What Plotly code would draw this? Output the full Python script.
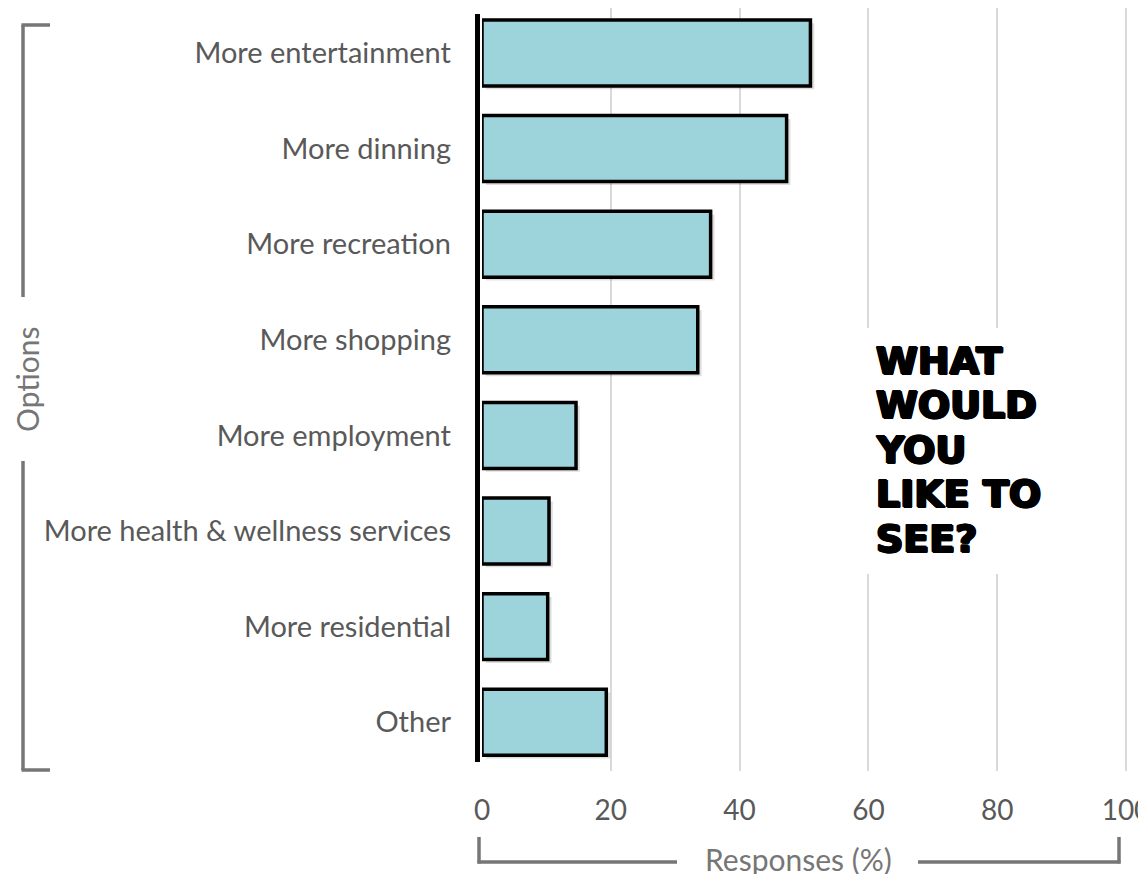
import plotly.graph_objects as go

categories = ["More entertainment", "More dinning", "More recreation", "More shopping",
              "More employment", "More health & wellness services", "More residential", "Other"]
values = [51, 47.3, 35.5, 33.5, 14.6, 10.4, 10.2, 19.3]
x_ticks = [0, 20, 40, 60, 80, 100]
title_lines = ["WHAT", "WOULD", "YOU", "LIKE TO", "SEE?"]

W, H = 1146, 874
OFF = 8  # page body margin
L, R, T, B = 474, 26, 0, 111
PW = W - L - R
PH = H - T - B

def px(xs):
    return (xs - OFF - L) / PW

def py(ys):
    return (H - B - (ys - OFF)) / PH

fig = go.Figure()

# soft shadow
fig.add_trace(go.Bar(
    y=list(range(len(categories))), x=values, orientation="h", base=0.6,
    width=0.69, offset=-0.31,
    marker=dict(color="rgba(0,0,0,0.13)", line=dict(width=0)),
    hoverinfo="skip", showlegend=False,
))
fig.add_trace(go.Bar(
    y=list(range(len(categories))), x=values, orientation="h",
    width=0.69, offset=-0.345,
    marker=dict(color="#9DD4DC", line=dict(color="#000000", width=3.5)),
    showlegend=False,
))

gray = "#767676"
shapes = []
# white box behind the title text
shapes.append(dict(type="rect", xref="paper", yref="paper", x0=px(852), x1=px(1062),
                   y0=py(574), y1=py(328), fillcolor="white", line=dict(width=0), layer="above"))
# black y axis line
shapes.append(dict(type="line", xref="paper", yref="paper", x0=px(477.5), x1=px(477.5),
                   y0=py(762), y1=py(14), line=dict(color="black", width=5)))
# left bracket
for (a, b) in [(25, 297), (461, 770)]:
    shapes.append(dict(type="line", xref="paper", yref="paper", x0=px(23), x1=px(23),
                       y0=py(a), y1=py(b), line=dict(color=gray, width=3.5)))
for yy in [25, 770]:
    shapes.append(dict(type="line", xref="paper", yref="paper", x0=px(21.5), x1=px(50),
                       y0=py(yy), y1=py(yy), line=dict(color=gray, width=3.5)))
# bottom bracket
for (a, b) in [(477.5, 677), (918, 1120.5)]:
    shapes.append(dict(type="line", xref="paper", yref="paper", x0=px(a), x1=px(b),
                       y0=py(862), y1=py(862), line=dict(color=gray, width=3.5)))
for xx in [479, 1119]:
    shapes.append(dict(type="line", xref="paper", yref="paper", x0=px(xx), x1=px(xx),
                       y0=py(863.5), y1=py(837), line=dict(color=gray, width=3.5)))

annotations = [
    dict(text="Options", xref="paper", yref="paper", x=px(27), y=py(379), textangle=-90,
         showarrow=False, font=dict(family="Lato", size=30, color=gray),
         xanchor="center", yanchor="middle"),
    dict(text="Responses (%)", xref="paper", yref="paper", x=px(798), y=py(859),
         showarrow=False, font=dict(family="Lato", size=30, color=gray),
         xanchor="center", yanchor="middle"),
]
title_y = [360.5, 405, 450, 494, 539]
heavy = "1.2px 0 0 #000, -1.2px 0 0 #000, 0 1px 0 #000, 0 -1px 0 #000, 1px 1px 0 #000, -1px -1px 0 #000"
for line, yy in zip(title_lines, title_y):
    annotations.append(dict(text=line, xref="paper", yref="paper", x=px(874), y=py(yy),
                            xanchor="left", yanchor="middle", showarrow=False,
                            font=dict(family="DejaVu Sans", size=38, color="black",
                                      weight="bold", shadow=heavy)))

fig.update_layout(
    width=W, height=H,
    margin=dict(l=L, r=R, t=T, b=B),
    paper_bgcolor="white", plot_bgcolor="white",
    barmode="overlay",
    shapes=shapes, annotations=annotations,
    font=dict(family="Lato", color="#595959"),
    xaxis=dict(range=[0, 100.31], tickvals=x_ticks, showgrid=True, gridcolor="#d9d9d9",
               gridwidth=1.5, zeroline=False, showline=False,
               tickfont=dict(family="Lato", size=28, color="#595959"),
               ticklabelstandoff=20, ticklabeloverflow="allow", fixedrange=True),
    yaxis=dict(range=[7.51, -0.4707], tickmode="array",
               tickvals=list(range(len(categories))), ticktext=categories,
               showgrid=False, zeroline=False, showline=False,
               tickfont=dict(family="Lato", size=29, color="#595959"),
               ticklabelstandoff=30, fixedrange=True),
)

fig.write_html("out.html")
